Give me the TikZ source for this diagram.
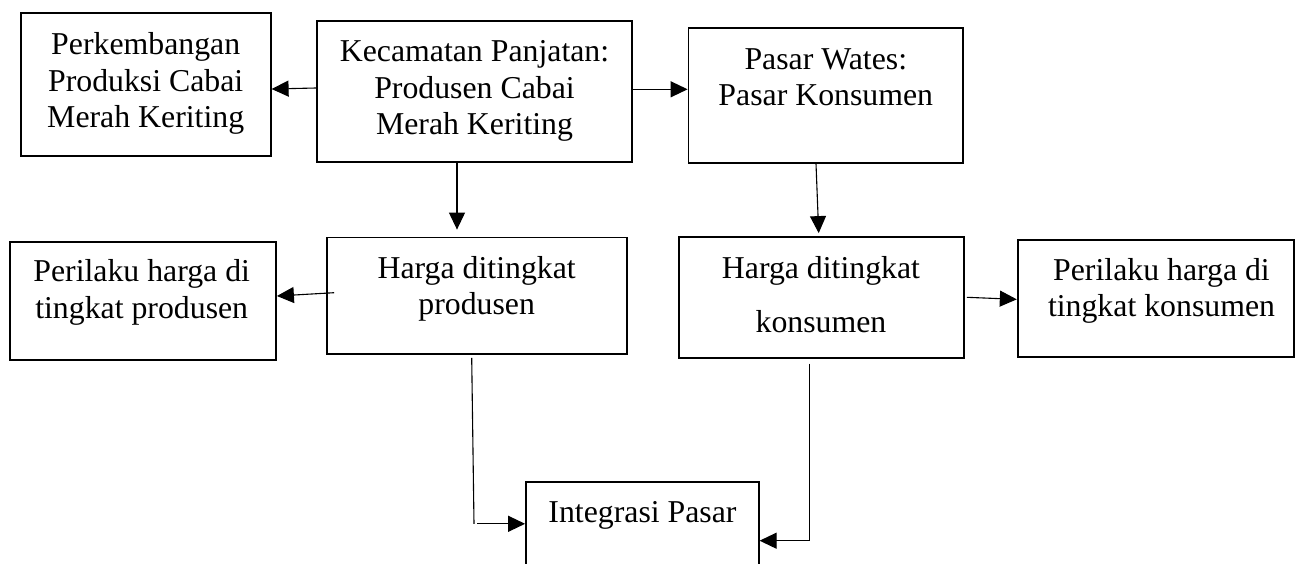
\documentclass[tikz,border=0pt]{standalone}
\usepackage{fontspec}
\setmainfont{Liberation Serif}
\usetikzlibrary{arrows.meta,calc}
\begin{document}
\begin{tikzpicture}[x=1pt,y=-1pt,
  box/.style={draw, line width=1.8pt, inner sep=0pt},
  txt/.style={font=\fontsize{31.8pt}{36.5pt}\selectfont, align=center, inner sep=0pt},
  arr/.style={line width=1.1pt, -{Triangle[length=17pt,width=16pt]}},
  ln/.style={line width=1.1pt}]
\useasboundingbox (0,0) rectangle (1296,563);
\clip (0,0) rectangle (1296,563);
% boxes
\node[box, minimum width=250pt,   minimum height=142.7pt] (b1) at (145.7,84.65) {};
\node[box, minimum width=315.6pt, minimum height=141pt]   (b2) at (474.5,91.2) {};
\node[box, minimum width=274.8pt, minimum height=134.4pt] (b3) at (825.9,95.5) {};
\node[box, minimum width=266pt,   minimum height=118pt]   (b4) at (143,301) {};
\node[box, minimum width=300pt,   minimum height=116.8pt] (b5) at (476.7,295.9) {};
\node[box, minimum width=285.6pt, minimum height=121pt]   (b6) at (821.5,297.8) {};
\node[box, minimum width=276.3pt, minimum height=116.7pt] (b7) at (1155.85,298.35) {};
\node[box, minimum width=232.7pt, minimum height=98pt]    (b8) at (642.35,531) {};
% texts
\node[txt] (t1) at (145.7,84.1) {\strut Perkembangan\\\strut Produksi Cabai\\\strut Merah Keriting};
\node[txt] (t2) at (474.5,90.7) {\strut Kecamatan Panjatan:\\\strut Produsen Cabai\\\strut Merah Keriting};
\node[txt] (t3) at (825.8,80.2) {\strut Pasar Wates:\\\strut Pasar Konsumen};
\node[txt] (t4) at (141.7,292.7) {\strut Perilaku harga di\\\strut tingkat produsen};
\node[txt] (t5) at (476.7,289) {\strut Harga ditingkat\\\strut produsen};
\node[txt] (t6) at (821,298.2) {\strut Harga ditingkat\\[17.9pt]\strut konsumen};
\node[txt] (t7) at (1161.5,291.35) {\strut Perilaku harga di\\\strut tingkat konsumen};
\node[txt] (t8) at (642.5,515.4) {\strut Integrasi Pasar};
% connectors
\draw[arr] ([yshift=3.2pt]b2.west) -- ([yshift=-4.35pt]b1.east);
\draw[arr] ([yshift=1.9pt]b2.east) -- ([yshift=6.2pt]b3.west);
\draw[arr] ([xshift=-17.5pt]b2.south) -- ([xshift=-19.7pt,yshift=7pt]b5.north);
\draw[arr] ([xshift=-9.9pt]b3.south) -- ([xshift=-2.8pt,yshift=3.3pt]b6.north);
\draw[arr] ([xshift=8.3pt,yshift=3.2pt]b5.west) -- ([yshift=5pt]b4.east);
\draw[arr] ([xshift=1.7pt,yshift=0.5pt]b6.east) -- ([yshift=-1pt]b7.west);
\coordinate (k1) at (474,523.8);
\coordinate (k2) at (809.3,540.7);
\draw[ln] ([xshift=-5pt,yshift=-2.7pt]b5.south) -- (k1);
\draw[arr] ([xshift=3.3pt]k1) -- (k1 -| b8.west);
\draw[arr] ([xshift=-12.2pt,yshift=-4.4pt]b6.south) -- (k2) -- (k2 -| b8.east);
\end{tikzpicture}
\end{document}
